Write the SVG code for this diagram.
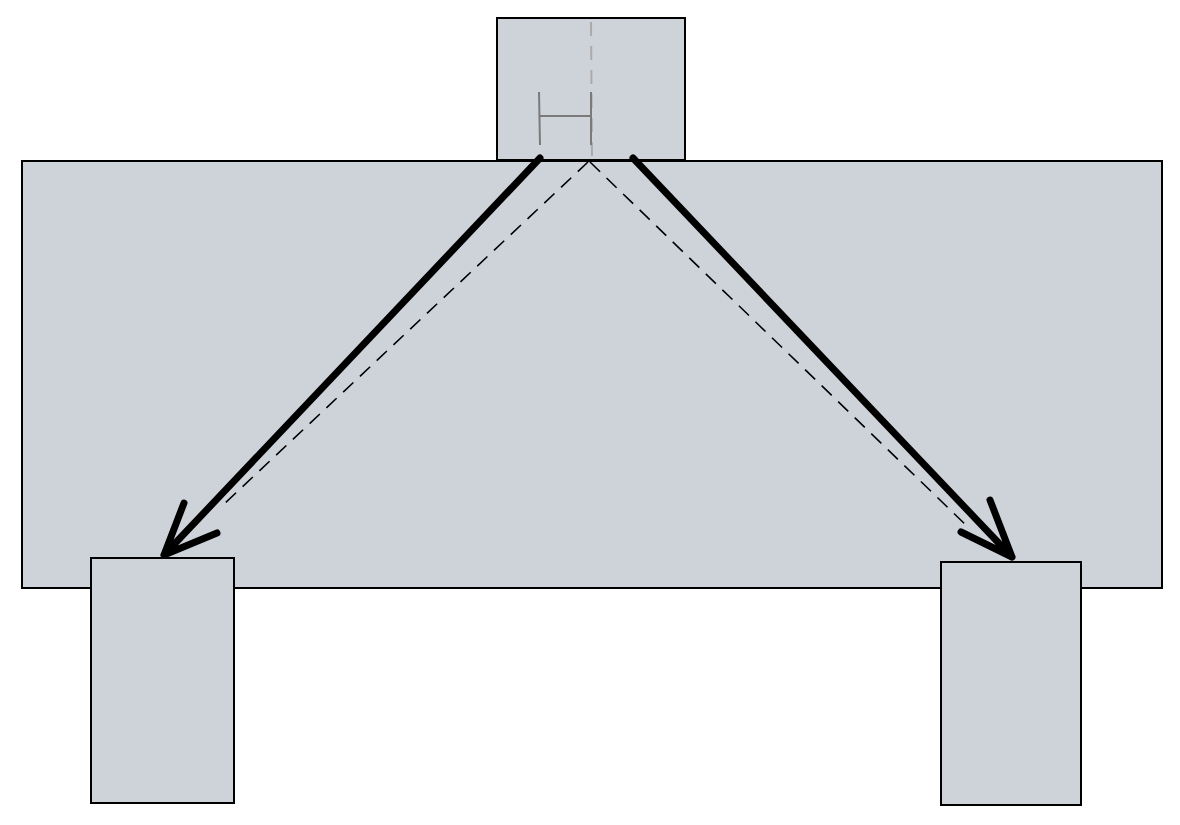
<svg xmlns="http://www.w3.org/2000/svg" width="1180" height="825" viewBox="0 0 1180 825">
<style>
.box{fill:#ced3da;stroke:#000;stroke-width:2}
.gray{stroke:#7a7a7a;stroke-width:2;fill:none}
.thick{stroke:#000;stroke-width:7;fill:none;stroke-linecap:round;stroke-linejoin:round}
.dash{stroke:#000;stroke-width:1.6;fill:none;stroke-dasharray:14 9}
</style>
<rect width="1180" height="825" fill="#fff"/>
<g id="main"><rect class="box" x="22" y="161" width="1140" height="427"/></g>
<g id="top">
<rect class="box" x="497" y="18" width="188" height="142"/>
<line x1="591" y1="22" x2="592" y2="158" stroke="#aaa" stroke-width="2" stroke-dasharray="14 10"/>
<path class="gray" d="M539 92 L540 145 M591 92 L591 145 M540 116 L591 116"/>
</g>
<g id="left"><rect class="box" x="91" y="558" width="143" height="245"/></g>
<g id="right"><rect class="box" x="941" y="562" width="140" height="243"/></g>
<g id="connectors">
<line class="dash" x1="588" y1="162" x2="222" y2="506"/>
<line class="dash" x1="590" y1="162" x2="968" y2="527"/>
<path class="thick" d="M540 158 L164 555 M184 503 L164 555 L217 533"/>
<path class="thick" d="M633 158 L1012 557 M990 500 L1012 557 L961 532"/>
</g>
</svg>
